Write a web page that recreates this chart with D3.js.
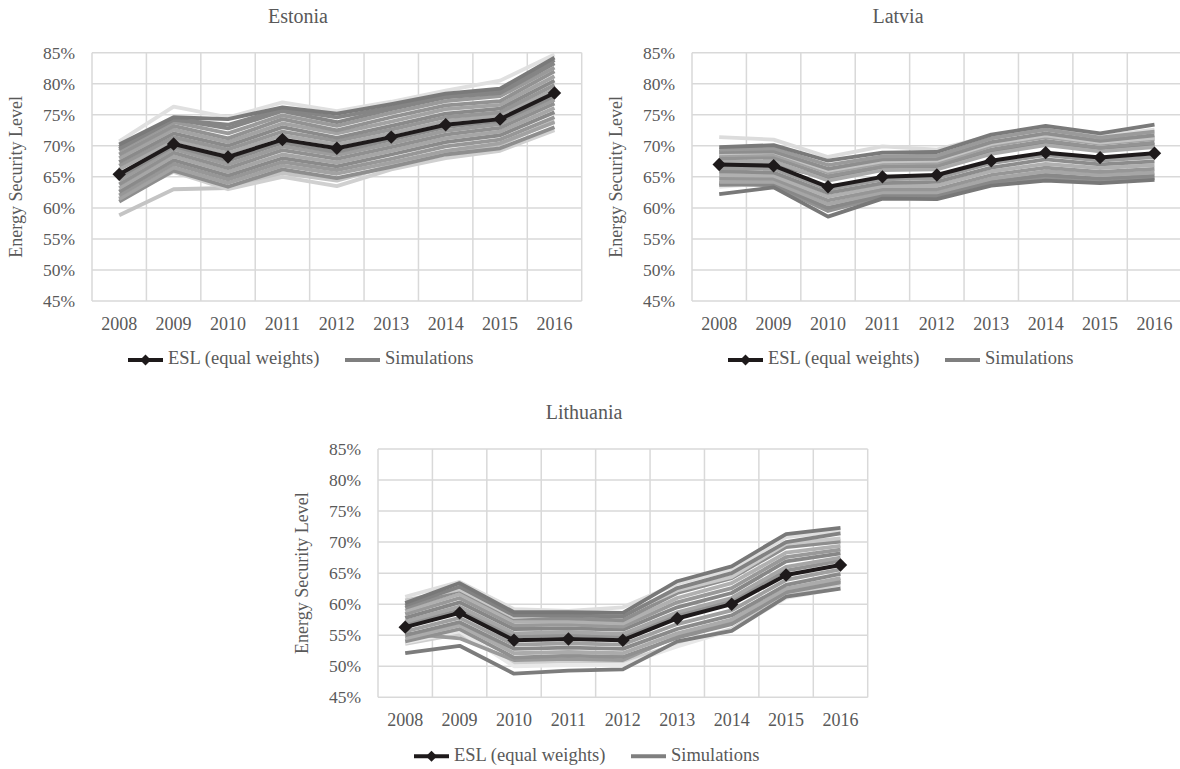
<!DOCTYPE html>
<html>
<head>
<meta charset="utf-8">
<script src="https://cdn.jsdelivr.net/npm/d3@7/dist/d3.min.js"></script>
<style>
  html, body { margin: 0; padding: 0; background: #ffffff; }
  svg { display: block; font-family: "Liberation Serif", "Times New Roman", serif; }
</style>
</head>
<body>
<svg id="chart" width="1180" height="769"></svg>
<script>
// Years on the category axis
const years = [2008, 2009, 2010, 2011, 2012, 2013, 2014, 2015, 2016];
const yTicks = [0.45, 0.50, 0.55, 0.60, 0.65, 0.70, 0.75, 0.80, 0.85];

// Energy security level, equal weights (%)
const estoniaESL   = [65.4, 70.3, 68.2, 71.0, 69.6, 71.4, 73.4, 74.3, 78.5];
const latviaESL    = [67.0, 66.8, 63.4, 65.0, 65.3, 67.6, 68.9, 68.1, 68.8];
const lithuaniaESL = [56.3, 58.6, 54.2, 54.4, 54.2, 57.7, 60.0, 64.7, 66.3];

// Weight simulations (%), one row per run
const estoniaSims = [
  [70.7, 76.3, 74.6, 77.0, 75.6, 77.1, 78.9, 80.5, 84.7],
  [58.8, 63.0, 63.2, 65.6, 64.4, 66.8, 68.8, 70.2, 74.0],
  [61.6, 65.8, 63.0, 65.0, 63.5, 66.2, 68.0, 69.2, 72.5],
  [61.0, 66.0, 63.4, 66.2, 64.8, 66.6, 68.6, 69.6, 73.0],
  [61.4, 66.5, 64.0, 66.8, 65.5, 67.3, 69.2, 70.4, 73.8],
  [62.0, 67.1, 64.6, 67.4, 66.1, 67.9, 69.9, 71.0, 74.6],
  [62.6, 67.7, 65.2, 68.0, 66.7, 68.6, 70.6, 71.7, 75.4],
  [63.2, 68.3, 65.8, 68.6, 67.3, 69.2, 71.2, 72.3, 76.1],
  [63.8, 68.9, 66.4, 69.3, 67.9, 69.8, 71.8, 72.9, 76.8],
  [64.4, 69.5, 67.0, 69.9, 68.5, 70.4, 72.4, 73.5, 77.4],
  [65.0, 70.0, 67.6, 70.5, 69.0, 71.0, 73.0, 74.0, 78.0],
  [66.2, 70.9, 68.8, 71.7, 70.2, 72.0, 74.0, 74.9, 79.1],
  [66.8, 71.4, 69.4, 72.3, 70.8, 72.6, 74.6, 75.4, 79.8],
  [67.4, 72.0, 70.0, 73.0, 71.3, 73.2, 75.2, 76.0, 80.5],
  [68.0, 72.6, 70.6, 73.6, 72.0, 73.9, 75.9, 76.6, 81.2],
  [68.6, 73.2, 71.2, 74.3, 72.5, 74.6, 76.5, 77.2, 82.0],
  [69.2, 73.8, 72.0, 74.9, 73.2, 75.3, 77.2, 78.0, 82.6],
  [69.8, 74.3, 72.8, 75.6, 73.8, 75.9, 77.8, 78.5, 83.3],
  [69.5, 74.2, 73.4, 75.9, 74.6, 76.2, 78.0, 78.9, 83.8],
  [70.2, 74.6, 74.3, 76.2, 75.2, 76.7, 78.4, 79.2, 84.2]
];

const latviaSims = [
  [71.4, 71.0, 68.2, 69.9, 69.4, 71.6, 72.9, 71.5, 72.6],
  [63.4, 64.0, 60.4, 62.3, 62.4, 64.6, 65.4, 64.5, 65.3],
  [64.0, 63.6, 59.5, 61.8, 61.7, 63.8, 64.9, 64.2, 64.8],
  [63.7, 63.8, 60.0, 62.0, 62.0, 64.2, 65.3, 64.7, 65.2],
  [64.2, 64.2, 60.6, 62.5, 62.5, 64.7, 65.9, 65.3, 65.7],
  [64.8, 64.7, 61.2, 63.0, 63.0, 65.3, 66.5, 65.8, 66.3],
  [65.3, 65.2, 61.8, 63.5, 63.6, 65.9, 67.1, 66.4, 66.9],
  [65.9, 65.7, 62.4, 64.0, 64.2, 66.5, 67.8, 67.0, 67.5],
  [66.4, 66.3, 63.0, 64.6, 64.8, 67.2, 68.5, 67.6, 68.2],
  [66.9, 67.0, 64.8, 66.4, 66.6, 69.0, 70.4, 69.6, 70.2],
  [67.5, 67.5, 64.4, 66.1, 66.2, 68.7, 70.1, 69.1, 69.8],
  [68.0, 68.1, 65.1, 66.7, 66.8, 69.4, 70.8, 69.7, 70.5],
  [68.5, 68.6, 65.7, 67.2, 67.3, 70.0, 71.4, 70.3, 71.1],
  [68.8, 69.0, 66.0, 67.5, 67.6, 70.3, 71.7, 70.5, 71.3],
  [69.0, 69.1, 66.3, 67.8, 67.9, 70.6, 72.0, 70.8, 71.7],
  [69.4, 69.6, 66.9, 68.3, 68.4, 71.2, 72.6, 71.3, 72.3],
  [62.2, 63.3, 58.6, 61.5, 61.4, 63.6, 64.4, 64.0, 64.5],
  [69.8, 70.1, 67.6, 68.9, 69.0, 71.8, 73.2, 72.0, 73.4]
];

const lithuaniaSims = [
  [61.2, 63.6, 59.2, 58.9, 59.5, 63.3, 65.6, 70.8, 71.8],
  [53.6, 55.2, 50.5, 50.8, 50.6, 53.6, 56.0, 61.4, 63.0],
  [53.8, 55.6, 50.0, 50.2, 50.2, 53.2, 55.8, 61.0, 62.6],
  [55.3, 54.5, 51.0, 51.2, 51.0, 54.8, 57.2, 62.2, 63.8],
  [54.0, 56.0, 51.4, 51.7, 51.5, 54.6, 56.8, 61.9, 63.5],
  [54.5, 56.6, 52.1, 52.3, 52.1, 55.3, 57.5, 62.5, 64.2],
  [55.0, 57.1, 52.8, 53.0, 52.8, 56.0, 58.2, 63.1, 64.9],
  [55.6, 57.8, 53.5, 53.7, 53.5, 56.8, 59.0, 63.9, 65.6],
  [56.8, 59.0, 54.8, 55.0, 54.7, 58.2, 60.5, 65.4, 67.0],
  [57.2, 59.6, 55.3, 55.5, 55.2, 58.7, 61.0, 66.0, 67.5],
  [57.8, 60.3, 56.0, 56.1, 55.9, 59.5, 61.8, 66.9, 68.2],
  [58.4, 61.0, 56.6, 56.7, 56.4, 60.3, 62.6, 67.6, 68.8],
  [58.9, 61.6, 57.2, 57.2, 56.9, 61.0, 63.4, 68.3, 69.4],
  [59.4, 62.2, 57.7, 57.7, 57.4, 61.8, 64.2, 69.2, 70.1],
  [60.6, 62.4, 57.9, 58.4, 58.3, 62.2, 64.4, 69.7, 70.6],
  [52.1, 53.3, 48.8, 49.3, 49.5, 54.0, 55.7, 61.2, 62.5],
  [59.8, 62.8, 58.2, 58.2, 58.0, 62.6, 65.0, 70.0, 71.4],
  [60.2, 63.4, 58.7, 58.7, 58.6, 63.7, 66.1, 71.3, 72.3]
];

// Stroke shades for the simulation runs (cycled per panel)
const simShades = {
  Estonia: ["#e0e0e0", "#c4c4c4", "#d0d0d0", "#8e8e8e", "#a2a2a2", "#979797", "#8a8a8a", "#a6a6a6",
            "#909090", "#9c9c9c", "#8c8c8c", "#a9a9a9", "#969696", "#8a8a8a", "#a3a3a3", "#929292",
            "#9a9a9a", "#868686", "#858585", "#7a7a7a"],
  Latvia: ["#dcdcdc", "#e6e6e6", "#929292", "#888888", "#a6a6a6", "#969696", "#b0b0b0", "#8c8c8c",
           "#9c9c9c", "#858585", "#aaaaaa", "#939393", "#a2a2a2", "#c4c4c4", "#8e8e8e", "#9a9a9a",
           "#787878", "#7a7a7a"],
  Lithuania: ["#dedede", "#cfcfcf", "#e8e8e8", "#9a9a9a", "#909090", "#ababab", "#8a8a8a", "#a0a0a0",
              "#939393", "#a6a6a6", "#878787", "#999999", "#b0b0b0", "#8e8e8e", "#c8c8c8", "#7c7c7c",
              "#828282", "#787878"]
};

const panels = [
  { name: "Estonia",   esl: estoniaESL,   sims: estoniaSims,   dx: 0,   dy: 0 },
  { name: "Latvia",    esl: latviaESL,    sims: latviaSims,    dx: 600, dy: 0 },
  { name: "Lithuania", esl: lithuaniaESL, sims: lithuaniaSims, dx: 286, dy: 396.3 }
];

const textColor = "#595959";
const gridColor = "#d9d9d9";
const eslColor = "#1e1a1b";
const plot = { left: 92, right: 581.7, top: 52.7, bottom: 301 };

const svg = d3.select("#chart");

const diamond = (sel, size) => sel
  .attr("d", d3.symbol().type(d3.symbolSquare).size(size)())
  .attr("fill", eslColor);

panels.forEach(p => {
  const g = svg.append("g").attr("transform", `translate(${p.dx},${p.dy})`);

  const x = d3.scaleBand().domain(years).range([plot.left, plot.right]).padding(0);
  const y = d3.scaleLinear().domain([0.45, 0.85]).range([plot.bottom, plot.top]);
  const cx = d => x(d) + x.bandwidth() / 2;

  // Grid: horizontal at every tick, vertical at category boundaries
  const grid = g.append("g").attr("stroke", gridColor).attr("stroke-width", 1.5);
  grid.selectAll("line.h").data(yTicks).join("line")
    .attr("x1", plot.left).attr("x2", plot.right)
    .attr("y1", d => y(d)).attr("y2", d => y(d));
  const edges = years.map(d => x(d)).concat([plot.right]);
  grid.selectAll("line.v").data(edges).join("line")
    .attr("x1", d => d).attr("x2", d => d)
    .attr("y1", plot.top).attr("y2", plot.bottom);

  // Axes (labels only)
  const yAxis = g.append("g").attr("transform", `translate(${plot.left},0)`)
    .call(d3.axisLeft(y).tickValues(yTicks).tickFormat(d3.format(".0%")).tickSize(0).tickPadding(17));
  const xAxis = g.append("g").attr("transform", `translate(0,${plot.bottom})`)
    .call(d3.axisBottom(x).tickSize(0).tickPadding(16));
  [yAxis, xAxis].forEach(a => {
    a.select(".domain").remove();
    a.selectAll("text").attr("fill", textColor).attr("font-size", 18)
      .attr("font-family", "'Liberation Serif', 'Times New Roman', serif");
  });
  yAxis.selectAll("text").attr("font-size", 17.5);

  // Simulation runs
  const line = d3.line().x((d, i) => cx(years[i])).y(d => y(d / 100));
  const shades = simShades[p.name];
  g.append("g").selectAll("path").data(p.sims).join("path")
    .attr("d", line)
    .attr("fill", "none")
    .attr("stroke", (d, i) => shades[i % shades.length])
    .attr("stroke-width", 3.8)
    .attr("stroke-linejoin", "round");

  // Equal-weights ESL
  g.append("path").datum(p.esl)
    .attr("d", line)
    .attr("fill", "none")
    .attr("stroke", eslColor)
    .attr("stroke-width", 4)
    .attr("stroke-linejoin", "round");
  g.append("g").selectAll("path").data(p.esl).join("path")
    .call(diamond, 90)
    .attr("transform", (d, i) => `translate(${cx(years[i])},${y(d / 100)}) rotate(45)`);

  // Titles
  g.append("text").attr("x", 298).attr("y", 18)
    .attr("text-anchor", "middle").attr("dominant-baseline", "middle")
    .attr("fill", textColor).attr("font-size", 20).text(p.name);
  g.append("text")
    .attr("transform", `translate(18,${(plot.top + plot.bottom) / 2}) rotate(-90)`)
    .attr("text-anchor", "middle").attr("dominant-baseline", "middle")
    .attr("fill", textColor).attr("font-size", 18).text("Energy Security Level");

  // Legend
  const lg = g.append("g").attr("transform", "translate(0,360)");
  lg.append("line").attr("x1", 128).attr("x2", 163).attr("y1", 0).attr("y2", 0)
    .attr("stroke", eslColor).attr("stroke-width", 4);
  lg.append("path").call(diamond, 60).attr("transform", "translate(145.5,0) rotate(45)");
  lg.append("text").attr("x", 168).attr("y", 0).attr("dominant-baseline", "middle")
    .attr("fill", textColor).attr("font-size", 18.5).text("ESL (equal weights)");
  lg.append("line").attr("x1", 345).attr("x2", 380).attr("y1", 0).attr("y2", 0)
    .attr("stroke", "#7f7f7f").attr("stroke-width", 4);
  lg.append("text").attr("x", 385).attr("y", 0).attr("dominant-baseline", "middle")
    .attr("fill", textColor).attr("font-size", 18.5).text("Simulations");
});
</script>
</body>
</html>
